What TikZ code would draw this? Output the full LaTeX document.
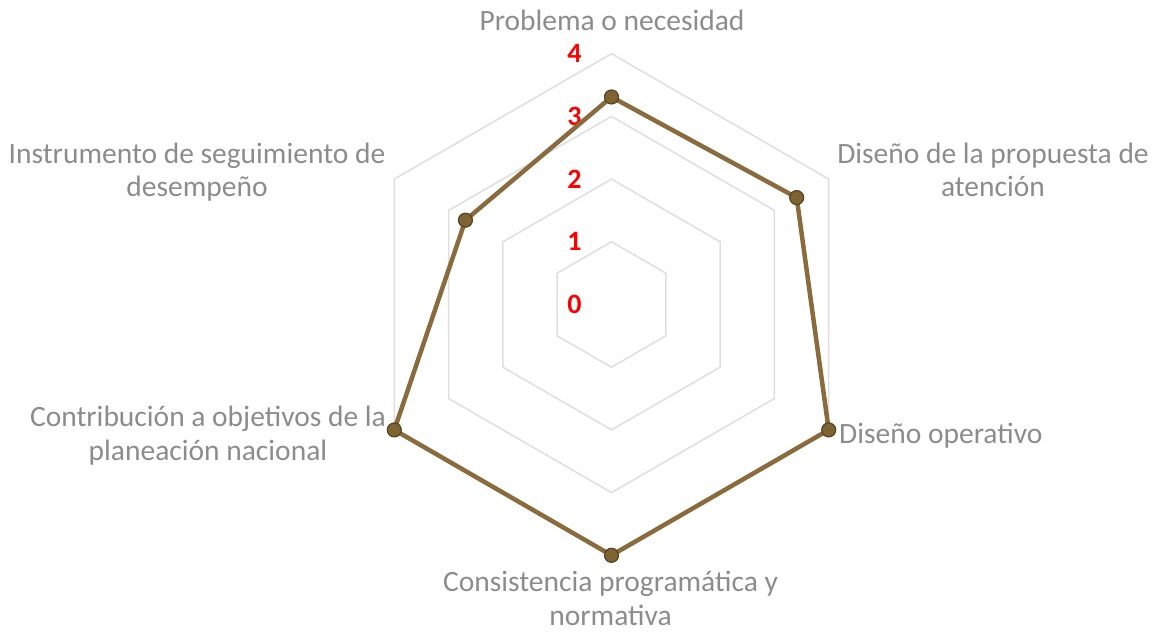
\documentclass[tikz,border=0pt]{standalone}
\usepackage{fontspec}
\setmainfont{Carlito}
\usetikzlibrary{calc}
\definecolor{gridgray}{HTML}{DEDEDE}
\definecolor{labelgray}{HTML}{8C8C8C}
\definecolor{serieline}{HTML}{8A6B3E}
\definecolor{seriefill}{HTML}{7D6432}
\definecolor{seriedraw}{HTML}{574424}
\newcommand*{\unit}{62.7}
\newcommand*{\catsize}{\fontsize{29.5}{33.4}\selectfont}
\newcommand*{\ticksize}{\fontsize{28}{30}\selectfont}
\tikzset{
  ring/.style={gridgray, line width=1.5pt},
  serie/.style={serieline, line width=4.5pt, line join=round},
  marker/.style={circle, fill=seriefill, draw=seriedraw, line width=1.2pt, inner sep=0pt, minimum size=14pt},
  tick/.style={text=red, font=\ticksize\bfseries, inner sep=0pt},
  cat/.style={text=labelgray, font=\catsize, align=center, inner sep=0pt, anchor=base}
}

\begin{document}
\begin{tikzpicture}[x=1pt, y=1pt]
    \useasboundingbox (0,0) rectangle (1156,633);
    \begin{scope}[shift={(611.5,328.5)}]
        \foreach \r in {1,...,4}
            \draw [ring] (90:\r*\unit) \foreach \a in {30,-30,-90,-150,150} { -- (\a:\r*\unit) } -- cycle;
        \node [tick] (tick0) at (-37,0)          {0};
        \node [tick] (tick1) at (-37,1*\unit)    {1};
        \node [tick] (tick2) at (-37,2*\unit)    {2};
        \node [tick] (tick3) at (-37,3*\unit)    {3};
        \node [tick] (tick4) at (-37,4*\unit)    {4};
        \coordinate (p1) at (90:3.31*\unit);
        \coordinate (p2) at (30:3.41*\unit);
        \coordinate (p3) at (-30:4*\unit);
        \coordinate (p4) at (-90:4*\unit);
        \coordinate (p5) at (-150:4*\unit);
        \coordinate (p6) at (150:2.69*\unit);
        \draw [serie] (p1) -- (p2) -- (p3) -- (p4) -- (p5) -- (p6) -- cycle;
        \node [marker] (m1) at (p1) {};
        \node [marker] (m2) at (p2) {};
        \node [marker] (m3) at (p3) {};
        \node [marker] (m4) at (p4) {};
        \node [marker] (m5) at (p5) {};
        \node [marker] (m6) at (p6) {};
    \end{scope}
    % base anchor sits on the last line
    \node [cat] (problema)    at (612,602)  {Problema o necesidad};
    \node [cat] (propuesta)   at (993,436.3)  {Diseño de la propuesta de\\atención};
    \node [cat, anchor=base west] (operativo) at (839,190) {Diseño operativo};
    \node [cat] (consistencia) at (610.5,8) {Consistencia programática y\\normativa};
    \node [cat] (contribucion) at (208,173) {Contribución a objetivos de la\\planeación nacional};
    \node [cat] (instrumento)  at (197,436.3) {Instrumento de seguimiento de\\desempeño};
\end{tikzpicture}
\end{document}
